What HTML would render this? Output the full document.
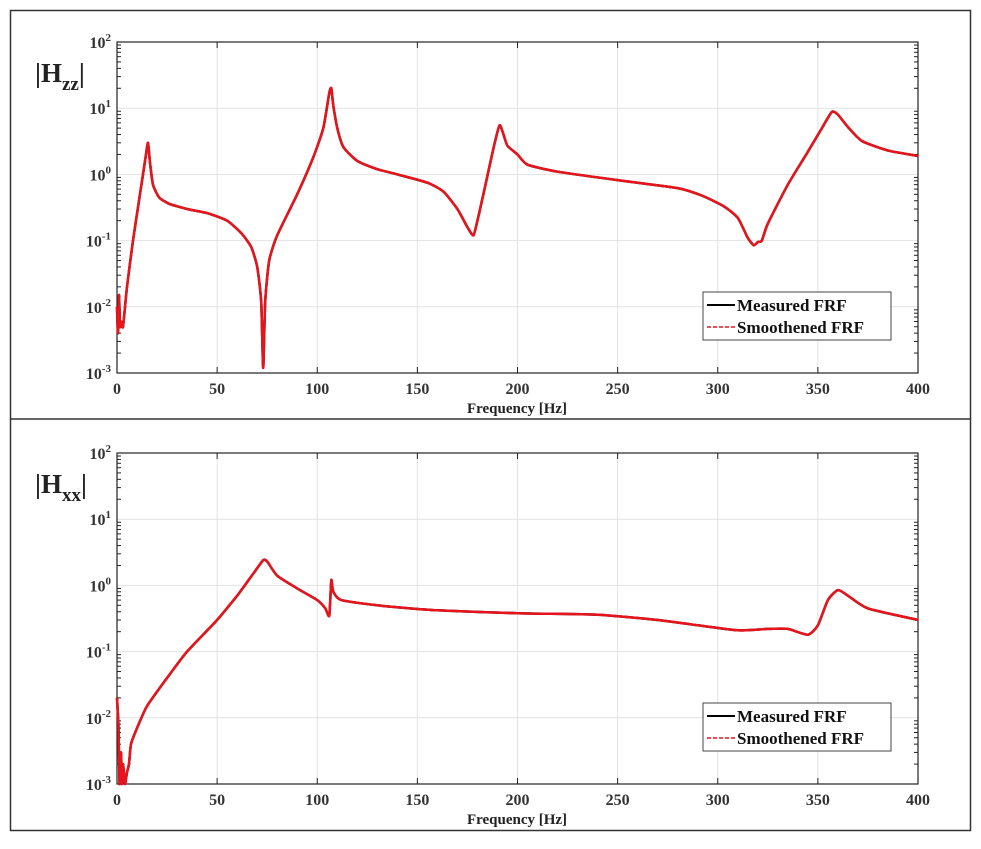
<!DOCTYPE html>
<html><head><meta charset="utf-8"><style>
html,body{margin:0;padding:0;background:#fff;}
svg{display:block;font-family:"Liberation Serif",serif;font-weight:bold;}
</style></head><body>
<svg id="s" width="981" height="849" xmlns="http://www.w3.org/2000/svg"></svg>
<script>
const S=document.getElementById('s');let h='';
h+='<rect x="10.5" y="10.5" width="960" height="820" fill="none" stroke="#333" stroke-width="1.5"/>';
h+='<line x1="10" y1="419" x2="971" y2="419" stroke="#333" stroke-width="1.5"/>';
const X0=117,X1=918;
function fx(f){return X0+f*(X1-X0)/400;}
function panel(top,name,data){
 const bot=top+331,dec=66.2;
 const fy=v=>top+(2-Math.log10(v))*dec;
 for(let f=50;f<400;f+=50)h+=`<line x1="${fx(f)}" y1="${top}" x2="${fx(f)}" y2="${bot}" stroke="#e2e2e2"/>`;
 for(let e=-2;e<=1;e++)h+=`<line x1="${X0}" y1="${fy(10**e)}" x2="${X1}" y2="${fy(10**e)}" stroke="#e2e2e2"/>`;
 h+=`<rect x="${X0}" y="${top}" width="${X1-X0}" height="${bot-top}" fill="none" stroke="#222" stroke-width="1.2"/>`;
 for(let f=0;f<=400;f+=50){h+=`<line x1="${fx(f)}" y1="${bot}" x2="${fx(f)}" y2="${bot-6}" stroke="#222"/><line x1="${fx(f)}" y1="${top}" x2="${fx(f)}" y2="${top+6}" stroke="#222"/>`;
  h+=`<text x="${fx(f)}" y="${bot+21}" font-size="16" text-anchor="middle" fill="#333">${f}</text>`;}
 for(let e=-3;e<=2;e++){
  h+=`<text x="111" y="${fy(10**e)+6}" font-size="16" text-anchor="end" fill="#333">10<tspan dy="-7" font-size="11">${e}</tspan></text>`;
  if(e<2)for(let k=2;k<10;k++){const y=fy(k*10**e);h+=`<line x1="${X0}" y1="${y}" x2="${X0+4}" y2="${y}" stroke="#222"/><line x1="${X1}" y1="${y}" x2="${X1-4}" y2="${y}" stroke="#222"/>`;}
 }
 h+=`<text x="517" y="${bot+40}" font-size="15" text-anchor="middle" fill="#222">Frequency [Hz]</text>`;
 h+=`<text x="35" y="${top+40}" font-size="27" fill="#222">|H<tspan dy="8" font-size="19">${name}</tspan><tspan dy="-8">|</tspan></text>`;
 const P=data.map(d=>[fx(d[0]),Math.min(bot,fy(d[1]))]);
 let p='M'+P[0][0].toFixed(1)+','+P[0][1].toFixed(1);
 for(let i=0;i<P.length-1;i++){
  const p0=P[Math.max(0,i-1)],p1=P[i],p2=P[i+1],p3=P[Math.min(P.length-1,i+2)];
  const t=0.6/6;
  const c1=[p1[0]+(p2[0]-p0[0])*t,Math.min(bot,p1[1]+(p2[1]-p0[1])*t)];
  const c2=[p2[0]-(p3[0]-p1[0])*t,Math.min(bot,p2[1]-(p3[1]-p1[1])*t)];
  p+=`C${c1[0].toFixed(1)},${c1[1].toFixed(1)} ${c2[0].toFixed(1)},${c2[1].toFixed(1)} ${p2[0].toFixed(1)},${p2[1].toFixed(1)}`;
 }
 h+=`<path d="${p}" fill="none" stroke="#000" stroke-width="2.5"/>`;
 h+=`<path d="${p}" fill="none" stroke="#e8141b" stroke-width="2.5"/>`;
 const ly=top+250;
 h+=`<rect x="703" y="${ly}" width="188" height="48" fill="#fff" stroke="#444"/>`;
 h+=`<line x1="707" y1="${ly+13}" x2="735" y2="${ly+13}" stroke="#000" stroke-width="2"/>`;
 h+=`<line x1="707" y1="${ly+35}" x2="735" y2="${ly+35}" stroke="#e8141b" stroke-width="1.5" stroke-dasharray="4,2"/>`;
 h+=`<text x="737" y="${ly+19}" font-size="17" fill="#111">Measured FRF</text>`;
 h+=`<text x="737" y="${ly+41}" font-size="17" fill="#111">Smoothened FRF</text>`;
}
panel(42,'zz',[[0,0.01],[0.5,0.004],[1,0.015],[1.5,0.005],[2,0.006],[3,0.005],[5,0.02],[8,0.1],[11,0.4],[13,1.0],[14.5,2],[15.5,3],[16.5,1.5],[18,0.7],[21,0.45],[26,0.36],[35,0.3],[45,0.26],[55,0.2],[62,0.13],[67,0.08],[70,0.04],[72,0.012],[73,0.0012],[74,0.012],[76,0.05],[80,0.12],[90,0.5],[98,1.8],[103,5],[106,17],[107,20],[108,11],[110,5],[113,2.6],[120,1.6],[130,1.2],[140,1.0],[155,0.75],[163,0.55],[170,0.3],[175,0.16],[178,0.12],[180,0.2],[184,0.7],[188,2.5],[191,5.5],[193,4],[195,2.7],[200,2],[205,1.4],[220,1.1],[250,0.82],[280,0.62],[292,0.48],[303,0.33],[310,0.22],[315,0.11],[318,0.085],[320,0.095],[322,0.1],[325,0.18],[335,0.7],[345,2.2],[352,5],[357,8.8],[360,8],[365,5.2],[372,3.2],[385,2.3],[400,1.9]]);
panel(453,'xx',[[0,0.02],[0.7,0.008],[1.3,0.001],[2,0.003],[2.5,0.0008],[3,0.002],[4,0.001],[5,0.0015],[6,0.002],[7,0.004],[10,0.007],[15,0.015],[25,0.04],[35,0.1],[50,0.3],[60,0.7],[68,1.5],[73,2.4],[75,2.3],[80,1.4],[90,0.9],[100,0.6],[104,0.45],[106,0.35],[107,1.2],[108,0.8],[112,0.6],[130,0.5],[160,0.42],[200,0.38],[240,0.36],[270,0.3],[290,0.25],[310,0.21],[325,0.22],[335,0.22],[345,0.18],[350,0.25],[355,0.6],[360,0.85],[365,0.7],[375,0.45],[400,0.3]]);
S.innerHTML=h;
</script>
</body></html>
